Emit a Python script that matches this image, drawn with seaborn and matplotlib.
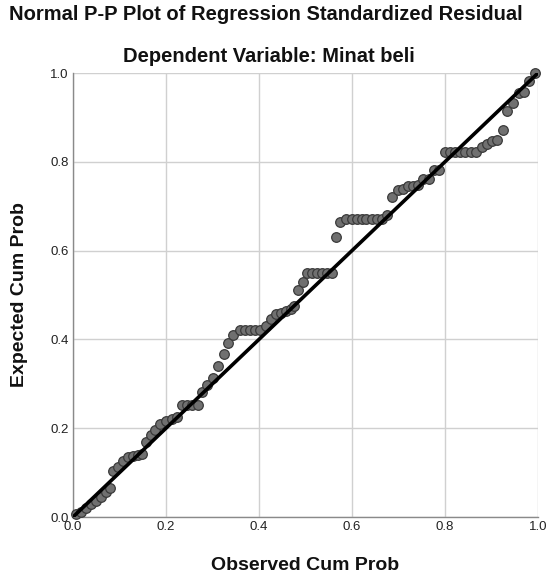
import matplotlib
matplotlib.use("Agg")
import matplotlib.pyplot as plt
import seaborn as sns
import pandas as pd

# Observed cumulative probabilities
observed = [
    0.0065, 0.017, 0.028, 0.039, 0.049, 0.060, 0.071, 0.079,
    0.086, 0.097, 0.108, 0.118, 0.129, 0.140, 0.148,
    0.157, 0.167, 0.177, 0.188, 0.200, 0.212, 0.224,
    0.234, 0.245, 0.256, 0.268,
    0.278, 0.289, 0.300, 0.312, 0.324, 0.334, 0.345,
    0.359, 0.370, 0.381, 0.391, 0.402,
    0.414, 0.426, 0.437, 0.447, 0.458, 0.468, 0.476, 0.484, 0.494,
    0.504, 0.515, 0.525, 0.536, 0.547, 0.557,
    0.565, 0.575,
    0.588, 0.599, 0.610, 0.621, 0.631, 0.642, 0.653, 0.664,
    0.676,
    0.687, 0.698, 0.709, 0.720, 0.731, 0.742, 0.753, 0.766, 0.777, 0.788,
    0.800, 0.811, 0.821, 0.832, 0.843, 0.855, 0.867,
    0.879, 0.890, 0.901, 0.912, 0.924, 0.934, 0.947, 0.960, 0.970, 0.981, 0.993,
]
# Expected cumulative probabilities
expected = [
    0.006, 0.012, 0.020, 0.029, 0.036, 0.046, 0.057, 0.065,
    0.104, 0.113, 0.127, 0.135, 0.137, 0.140, 0.142,
    0.168, 0.184, 0.196, 0.210, 0.217, 0.221, 0.225,
    0.253, 0.253, 0.253, 0.253,
    0.282, 0.298, 0.314, 0.340, 0.366, 0.392, 0.410,
    0.421, 0.421, 0.421, 0.421, 0.421,
    0.430, 0.447, 0.457, 0.459, 0.464, 0.469, 0.476, 0.512, 0.530,
    0.549, 0.549, 0.549, 0.549, 0.549, 0.549,
    0.631, 0.665,
    0.672, 0.672, 0.672, 0.672, 0.672, 0.672, 0.672, 0.672,
    0.681,
    0.721, 0.737, 0.739, 0.746, 0.746, 0.747, 0.761, 0.761, 0.781, 0.781,
    0.821, 0.821, 0.821, 0.821, 0.821, 0.821, 0.821,
    0.833, 0.839, 0.847, 0.849, 0.872, 0.915, 0.932, 0.954, 0.957, 0.982, 0.999,
]
ref_x = [0.0, 1.0]
ref_y = [0.0, 1.0]
ticks = [0.0, 0.2, 0.4, 0.6, 0.8, 1.0]
tick_labels = ["0.0", "0.2", "0.4", "0.6", "0.8", "1.0"]

title = "Normal P-P Plot of Regression Standardized Residual"
subtitle = "Dependent Variable: Minat beli"
xlabel = "Observed Cum Prob"
ylabel = "Expected Cum Prob"

sns.set_theme(style="whitegrid")
plt.rcParams["font.family"] = ["Liberation Sans", "DejaVu Sans"]

df = pd.DataFrame({"observed": observed, "expected": expected})
ref = pd.DataFrame({"x": ref_x, "y": ref_y})

fig = plt.figure(figsize=(5.47, 5.75), dpi=100)
ax = fig.add_axes([73 / 547, 1 - 517 / 575, 465 / 547, 444 / 575])

sns.scatterplot(data=df, x="observed", y="expected", ax=ax, s=48,
                color="#707070", edgecolor="#3a3a3a", linewidth=0.9,
                zorder=3, clip_on=False)
sns.lineplot(data=ref, x="x", y="y", ax=ax, color="black", linewidth=2.6,
             zorder=4)

ax.set_xlim(0, 1)
ax.set_ylim(0, 1)
ax.set_xticks(ticks)
ax.set_yticks(ticks)
ax.set_xticklabels(tick_labels, fontsize=9.5, color="#222222")
ax.set_yticklabels(tick_labels, fontsize=9.5, color="#222222")
ax.tick_params(axis="both", length=0, pad=3)
ax.grid(True, color="#d0d0d0", linewidth=1.0)
ax.set_axisbelow(True)
for side in ["top", "right"]:
    ax.spines[side].set_visible(False)
for side in ["left", "bottom"]:
    ax.spines[side].set_color("#8a8a8a")
    ax.spines[side].set_linewidth(1.0)
ax.set_xlabel("")
ax.set_ylabel("")

fig.text(266 / 547, 1 - 15 / 575, title, ha="center", va="center",
         fontsize=14.5, fontweight="bold", color="#111111")
fig.text(268.5 / 547, 1 - 57 / 575, subtitle, ha="center", va="center",
         fontsize=14.5, fontweight="bold", color="#111111")
fig.text(305 / 547, 1 - 565 / 575, xlabel, ha="center", va="center",
         fontsize=14, fontweight="bold", color="#111111")
fig.text(20 / 547, 1 - 295 / 575, ylabel, ha="center", va="center",
         fontsize=14, fontweight="bold", color="#111111", rotation=90)

fig.savefig("out.png", dpi=100, facecolor="white")
